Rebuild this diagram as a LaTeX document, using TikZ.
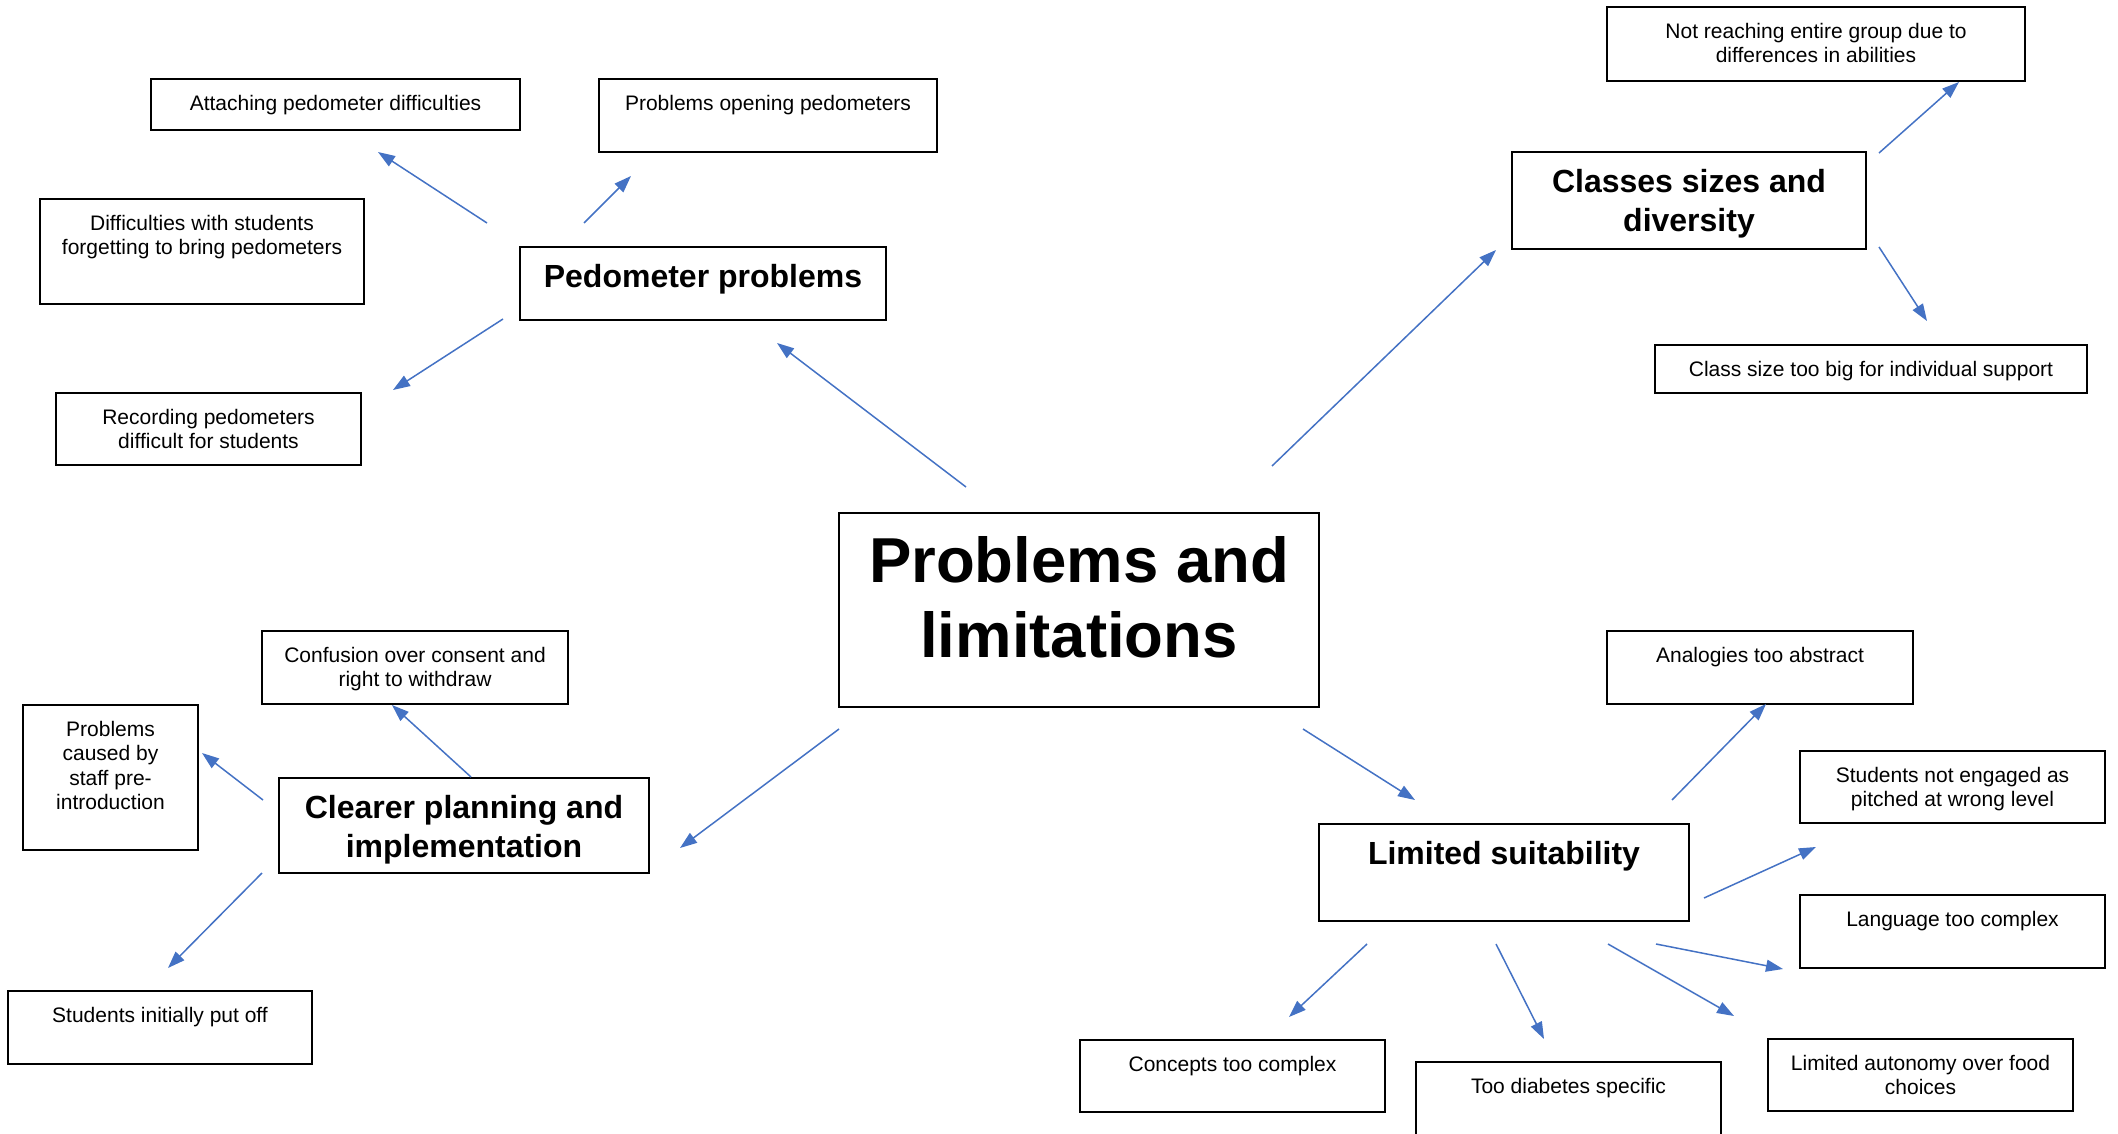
\documentclass[tikz,border=0pt]{standalone}
\usepackage{fontspec}
\setmainfont{Liberation Sans}
\usetikzlibrary{arrows.meta}
\definecolor{linkblue}{HTML}{4472C4}
\tikzset{
  box/.style={draw=black, line width=2pt, inner sep=0pt, outer sep=0pt,
              anchor=north west, fill=white},
  smalltxt/.style={anchor=north, inner sep=0pt, align=center, yshift=-16pt,
                   font=\fontsize{21}{24.5}\selectfont},
  midtxt/.style={anchor=north, inner sep=0pt, align=center, yshift=-17pt,
                 font=\fontsize{32}{39}\selectfont\bfseries},
  bigtxt/.style={anchor=north, inner sep=0pt, align=center, yshift=-23pt,
                 font=\fontsize{63.5}{75}\selectfont\bfseries},
  conn/.style={draw=linkblue, line width=1.5pt,
               -{Triangle[length=17pt,width=12pt]}}
}
\begin{document}
\begin{tikzpicture}[x=1pt, y=-1pt]
\useasboundingbox (0,0) rectangle (2118,1134);

% central topic
\node[box, minimum width=480pt, minimum height=194pt,
      label={[bigtxt]north:Problems and\\limitations}] (cent) at (839,513) {};

% pedometer branch
\node[box, minimum width=366pt, minimum height=73pt,
      label={[midtxt]north:Pedometer problems}] (ped) at (520,247) {};
\node[box, minimum width=369pt, minimum height=51pt,
      label={[smalltxt]north:Attaching pedometer difficulties}] (att) at (151,79) {};
\node[box, minimum width=338pt, minimum height=73pt,
      label={[smalltxt]north:Problems opening pedometers}] (open) at (599,79) {};
\node[box, minimum width=324pt, minimum height=105pt,
      label={[smalltxt]north:Difficulties with students\\forgetting to bring pedometers}] (diff) at (40,199) {};
\node[box, minimum width=305pt, minimum height=72pt,
      label={[smalltxt]north:Recording pedometers\\difficult for students}] (rec) at (56,393) {};

% class size branch
\node[box, minimum width=354pt, minimum height=97pt,
      label={[midtxt]north:Classes sizes and\\diversity}] (cls) at (1512,152) {};
\node[box, minimum width=418pt, minimum height=74pt,
      label={[smalltxt]north:Not reaching entire group due to\\differences in abilities}] (notr) at (1607,7) {};
\node[box, minimum width=432pt, minimum height=48pt,
      label={[smalltxt]north:Class size too big for individual support}] (csize) at (1655,345) {};

% planning branch
\node[box, minimum width=370pt, minimum height=95pt,
      label={[midtxt]north:Clearer planning and\\implementation}] (clear) at (279,778) {};
\node[box, minimum width=306pt, minimum height=73pt,
      label={[smalltxt]north:Confusion over consent and\\right to withdraw}] (conf) at (262,631) {};
\node[box, minimum width=175pt, minimum height=145pt,
      label={[smalltxt]north:Problems\\caused by\\staff pre-\\introduction}] (pcause) at (23,705) {};
\node[box, minimum width=304pt, minimum height=73pt,
      label={[smalltxt]north:Students initially put off}] (put) at (8,991) {};

% suitability branch
\node[box, minimum width=370pt, minimum height=97pt,
      label={[midtxt]north:Limited suitability}] (lim) at (1319,824) {};
\node[box, minimum width=306pt, minimum height=73pt,
      label={[smalltxt]north:Analogies too abstract}] (anal) at (1607,631) {};
\node[box, minimum width=305pt, minimum height=72pt,
      label={[smalltxt]north:Students not engaged as\\pitched at wrong level}] (neng) at (1800,751) {};
\node[box, minimum width=305pt, minimum height=73pt,
      label={[smalltxt]north:Language too complex}] (lang) at (1800,895) {};
\node[box, minimum width=305pt, minimum height=72pt,
      label={[smalltxt]north:Concepts too complex}] (conc) at (1080,1040) {};
\node[box, minimum width=305pt, minimum height=100pt,
      label={[smalltxt]north:Too diabetes specific}] (diab) at (1416,1062) {};
\node[box, minimum width=305pt, minimum height=72pt,
      label={[smalltxt]north:Limited autonomy over food\\choices}] (auto) at (1768,1039) {};

% free-floating arrow end points
\coordinate (a1) at (966,487);  \coordinate (a2) at (777,343);
\coordinate (b1) at (1272,466); \coordinate (b2) at (1496,250);
\coordinate (c1) at (839,729);  \coordinate (c2) at (680,848);
\coordinate (d1) at (1303,729); \coordinate (d2) at (1415,800);
\coordinate (e1) at (487,223);  \coordinate (e2) at (378,152);
\coordinate (f1) at (584,223);  \coordinate (f2) at (631,176);
\coordinate (g1) at (503,319);  \coordinate (g2) at (393,390);
\coordinate (h1) at (1879,153); \coordinate (h2) at (1959,82);
\coordinate (i1) at (1879,247); \coordinate (i2) at (1927,321);
\coordinate (j1) at (471,777);  \coordinate (j2) at (392,705);
\coordinate (k1) at (263,800);  \coordinate (k2) at (202,753);
\coordinate (l1) at (262,873);  \coordinate (l2) at (168,968);
\coordinate (m1) at (1672,800); \coordinate (m2) at (1766,704);
\coordinate (n1) at (1704,898); \coordinate (n2) at (1816,847);
\coordinate (o1) at (1656,944); \coordinate (o2) at (1783,969);
\coordinate (p1) at (1608,944); \coordinate (p2) at (1734,1016);
\coordinate (q1) at (1496,944); \coordinate (q2) at (1544,1039);
\coordinate (r1) at (1367,944); \coordinate (r2) at (1289,1017);

\foreach \s in {a,b,c,d,e,f,g,h,i,j,k,l,m,n,o,p,q,r}
  \draw[conn] (\s1) -- (\s2);
\end{tikzpicture}
\end{document}
